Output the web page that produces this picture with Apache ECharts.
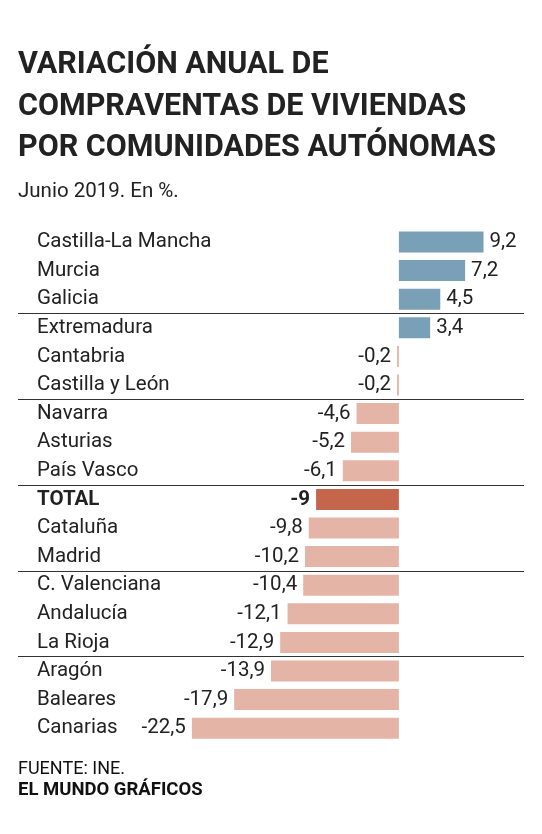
<!DOCTYPE html>
<html>
<head>
<meta charset="utf-8">
<script src="https://cdn.jsdelivr.net/npm/echarts@6/dist/echarts.min.js"></script>
<style>
html,body{margin:0;padding:0;background:#fff;}
#chart{width:542px;height:834px;}
</style>
</head>
<body>
<div id="chart"></div>
<script>
var titleLines = ['VARIACIÓN ANUAL DE', 'COMPRAVENTAS DE VIVIENDAS', 'POR COMUNIDADES AUTÓNOMAS'];
var subtitle = 'Junio 2019. En %.';
var sourceText = 'FUENTE: INE.';
var creditText = 'EL MUNDO GRÁFICOS';
var categories = ['Castilla-La Mancha','Murcia','Galicia','Extremadura','Cantabria','Castilla y León','Navarra','Asturias','País Vasco','TOTAL','Cataluña','Madrid','C. Valenciana','Andalucía','La Rioja','Aragón','Baleares','Canarias'];
var values = [9.2, 7.2, 4.5, 3.4, -0.2, -0.2, -4.6, -5.2, -6.1, -9, -9.8, -10.2, -10.4, -12.1, -12.9, -13.9, -17.9, -22.5];
var totalName = 'TOTAL';
var groupBoundaries = [3, 6, 9, 12, 15];

var POS = '#7aa0b8', NEG = '#e4b5a6', TOT = '#c5654b', TXT = '#222';

var chart = echarts.init(document.getElementById('chart'));
var data = values.map(function (v, i) {
  var isTot = categories[i] === totalName;
  return {
    value: v,
    itemStyle: { color: isTot ? TOT : (v >= 0 ? POS : NEG) },
    label: {
      position: v >= 0 ? 'right' : 'left',
      fontWeight: isTot ? 'bold' : 'normal'
    }
  };
});

var titleGraphics = titleLines.map(function (t, i) {
  return {
    type: 'text', left: 18, top: 50 + i * 41.5,
    style: { text: t, fill: TXT, font: 'bold 30.5px Roboto' }
  };
});

chart.setOption({
  animation: false,
  backgroundColor: '#fff',
  grid: { left: 18, right: 18, top: 227.7, height: 514.8, containLabel: false },
  xAxis: { type: 'value', min: -41.4, max: 13.6, show: false },
  yAxis: [{
    type: 'category', data: categories, inverse: true,
    axisLine: { show: false }, axisTick: { show: false }, splitLine: { show: false },
    axisLabel: {
      inside: true, margin: 19, align: 'left',
      color: TXT, fontFamily: 'Roboto', fontSize: 20.5,
      formatter: function (v) { return v === totalName ? '{b|' + v + '}' : v; },
      rich: { b: { fontWeight: 'bold', fontFamily: 'Roboto', fontSize: 20.5, color: TXT } }
    }
  }, {
    type: 'value', min: 0, max: categories.length, inverse: true, show: false
  }],
  series: [{
    type: 'bar', data: data, barWidth: 21,
    label: {
      show: true, distance: 6, color: TXT, fontFamily: 'Roboto', fontSize: 20.5,
      formatter: function (p) { return String(p.value).replace('.', ','); }
    }
  }, {
    type: 'line', yAxisIndex: 1, data: [], silent: true,
    markLine: {
      silent: true, symbol: 'none', label: { show: false },
      lineStyle: { color: '#333', width: 1, type: 'solid' },
      data: groupBoundaries.map(function (b) { return { yAxis: b }; })
    }
  }],
  graphic: titleGraphics.concat([
    { type: 'text', left: 18, top: 181, style: { text: subtitle, fill: TXT, font: '20.5px Roboto' } },
    { type: 'text', left: 18, top: 760, style: { text: sourceText, fill: '#111', font: '18px Roboto' } },
    { type: 'text', left: 18, top: 781, style: { text: creditText, fill: '#111', font: 'bold 18.5px Roboto' } }
  ])
});
</script>
</body>
</html>
